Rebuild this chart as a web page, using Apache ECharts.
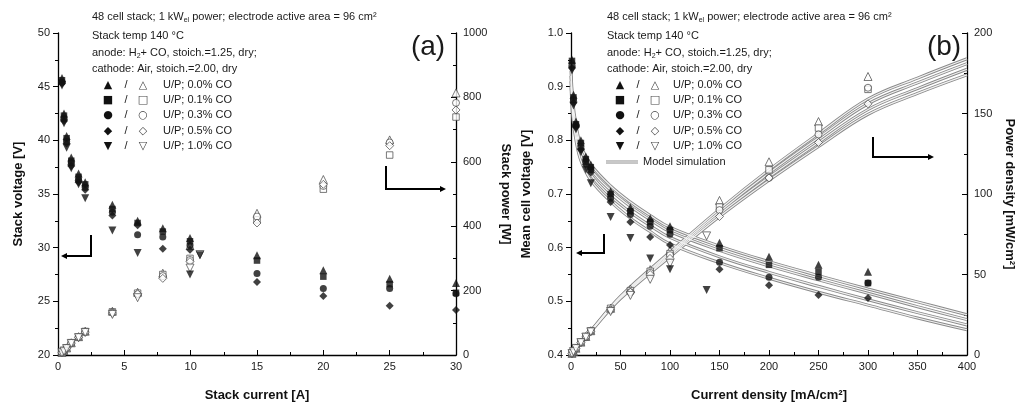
<!DOCTYPE html>
<html><head><meta charset="utf-8">
<script src="https://cdn.jsdelivr.net/npm/echarts@6/dist/echarts.min.js"></script>
<style>html,body{margin:0;padding:0;background:#fff}#c{width:1029px;height:413px}</style>
</head><body><div id="c"></div>
<script>
// ---------- Panel (a): stack current [A] ----------
const leftI   = [0.3, 0.45, 0.65, 1.0, 1.55, 2.05, 4.1, 6.0, 7.9, 9.95, 15, 20, 25, 30];
const leftIdt = [0.3, 0.45, 0.65, 1.0, 1.55, 2.05, 4.1, 6.0, 9.95, 10.7];
// stack voltage [V]
const vA_00 = [45.8, 42.5, 40.4, 38.4, 36.9, 36.1, 34.0, 32.5, 31.8, 30.9, 29.3, 27.9, 27.1, 26.7];
const vA_01 = [45.6, 42.3, 40.2, 38.1, 36.6, 35.9, 33.6, 32.3, 31.5, 30.6, 28.8, 27.3, 26.6, 25.8];
const vA_03 = [45.4, 42.0, 39.9, 37.9, 36.3, 35.6, 33.3, 31.2, 31.0, 30.2, 27.6, 26.2, 26.2, 25.7];
const vA_05 = [45.3, 41.8, 39.7, 37.6, 36.1, 35.4, 33.0, 32.1, 29.9, 29.8, 26.8, 25.5, 24.6, 24.2];
const vA_10 = [45.1, 41.6, 39.3, 37.4, 35.9, 34.6, 31.6, 29.5, 27.5, 29.3];
// stack power [W]
const pA_00 = [8, 14, 22, 38, 57, 74, 136, 195, 254, 340, 440, 545, 668, 814];
const pA_01 = [8, 14, 22, 38, 56, 73, 134, 192, 250, 300, 420, 515, 621, 739];
const pA_03 = [8, 13, 21, 37, 55, 72, 132, 188, 245, 295, 430, 525, 660, 783];
const pA_05 = [7, 13, 21, 37, 55, 71, 130, 190, 238, 290, 410, 530, 650, 761];
const pA_10 = [7, 12, 20, 36, 54, 70, 126, 178, 270, 312];

// ---------- Panel (b): current density [mA/cm2] ----------
const rightJ   = [1, 2.5, 5, 10, 15, 20, 40, 60, 80, 100, 150, 200, 250, 300];
const rightJdt = [1, 2.5, 5, 10, 15, 20, 40, 60, 80, 100, 137];
// mean cell voltage [V]
const vB_00 = [0.950, 0.885, 0.835, 0.800, 0.770, 0.755, 0.705, 0.675, 0.655, 0.640, 0.609, 0.583, 0.568, 0.555];
const vB_01 = [0.948, 0.880, 0.830, 0.795, 0.765, 0.750, 0.700, 0.668, 0.648, 0.633, 0.599, 0.568, 0.555, 0.534];
const vB_03 = [0.940, 0.875, 0.828, 0.788, 0.760, 0.745, 0.692, 0.662, 0.640, 0.625, 0.573, 0.545, 0.545, 0.534];
const vB_05 = [0.935, 0.870, 0.825, 0.783, 0.755, 0.740, 0.685, 0.648, 0.620, 0.605, 0.560, 0.530, 0.512, 0.506];
const vB_10 = [0.930, 0.865, 0.820, 0.778, 0.745, 0.720, 0.657, 0.618, 0.580, 0.560, 0.521];
// power density [mW/cm2]
const pB_00 = [1.0, 2.2, 4.2, 8.0, 11.5, 15.1, 29, 41, 53, 65, 96, 120, 145, 173];
const pB_01 = [1.0, 2.2, 4.2, 8.0, 11.4, 15.0, 29, 40, 52, 63, 92, 115, 141, 165];
const pB_03 = [0.9, 2.2, 4.1, 7.9, 11.3, 14.8, 28, 39, 51, 62, 90, 110, 137, 166];
const pB_05 = [0.9, 2.2, 4.1, 7.8, 11.2, 14.7, 28, 39, 50, 60, 86, 110, 132, 156];
const pB_10 = [0.9, 2.1, 4.1, 7.7, 11.1, 14.4, 27, 37, 47, 57, 74];

// model simulation curves
const modelJ  = [0, 2, 5, 10, 20, 40, 60, 80, 100, 150, 200, 250, 300, 350, 400];
const modelV1 = [0.93, 0.87, 0.83, 0.79, 0.755, 0.715, 0.685, 0.660, 0.638, 0.603, 0.574, 0.548, 0.523, 0.499, 0.475];
const modelV2 = [0.92, 0.86, 0.82, 0.782, 0.746, 0.707, 0.677, 0.652, 0.630, 0.595, 0.566, 0.540, 0.515, 0.490, 0.466];
const modelV3 = [0.91, 0.85, 0.81, 0.772, 0.736, 0.696, 0.666, 0.641, 0.619, 0.583, 0.554, 0.528, 0.503, 0.479, 0.456];
const modelV4 = [0.90, 0.84, 0.80, 0.762, 0.726, 0.686, 0.655, 0.630, 0.607, 0.572, 0.543, 0.517, 0.493, 0.469, 0.447];
const modelPJ = [0, 5, 10, 20, 50, 100, 150, 200, 250, 300, 350, 400];
const modelP1 = [0, 4.1, 7.9, 15.1, 36.5, 64, 90.5, 115, 137.5, 159, 172, 184];
const modelP2 = [0, 4.1, 7.8, 14.9, 36.0, 63, 89.0, 113, 135.0, 156, 169, 181];
const modelP3 = [0, 4.0, 7.7, 14.7, 35.5, 62, 87.5, 110.5, 132.0, 152.5, 165.5, 177.5];
const modelP4 = [0, 4.0, 7.6, 14.5, 35.0, 61, 86.0, 108.5, 129.5, 149.5, 162.5, 174];

const concLabels = ['U/P; 0.0% CO', 'U/P; 0.1% CO', 'U/P; 0.3% CO', 'U/P; 0.5% CO', 'U/P; 1.0% CO'];
const filledGlyphs = ['▲', '■', '●', '◆', '▼'];
const openGlyphs = ['△', '□', '○', '◇', '▽'];

const xTicksA = [0, 30, 5];
const yTicksA = [20, 50, 5];
const yTicksAP = [0, 1000, 200];
const xTicksB = [0, 400, 50];
const yTicksB = [0.4, 1.0, 0.1];
const yTicksBP = [0, 200, 50];

// ---------- build ----------
const zip = (xs, ys) => ys.map((y, i) => [xs[i], y]).filter(p => p[1] != null);
const syms = ['triangle', 'rect', 'circle', 'diamond', 'triangle'];
const rots = [0, 0, 0, 0, 180];
const sizes = [8, 6.5, 7, 8, 8];
const INK = '#111';

function scat(name, xi, yi, data, k, open) {
  return {
    name, type: 'scatter', xAxisIndex: xi, yAxisIndex: yi, data,
    symbol: syms[k], symbolRotate: rots[k], symbolSize: sizes[k], z: 5,
    itemStyle: open ? {color: '#fff', borderColor: '#444', borderWidth: 0.9}
                    : {color: INK, borderColor: INK, borderWidth: 0},
    silent: true
  };
}
function modelLine(xi, yi, data) {
  return [
    {type: 'line', xAxisIndex: xi, yAxisIndex: yi, data, smooth: 0.4, showSymbol: false, symbol: 'none',
     lineStyle: {color: '#8a8a8a', width: 3}, z: 2, silent: true},
    {type: 'line', xAxisIndex: xi, yAxisIndex: yi, data, smooth: 0.4, showSymbol: false, symbol: 'none',
     lineStyle: {color: '#f2f2f2', width: 1.2}, z: 3, silent: true}
  ];
}

const series = [];
[modelV1, modelV2, modelV3, modelV4].forEach(v => series.push(...modelLine(1, 2, zip(modelJ, v))));
[modelP1, modelP2, modelP3, modelP4].forEach(p => series.push(...modelLine(1, 3, zip(modelPJ, p))));

const vA = [vA_00, vA_01, vA_03, vA_05, vA_10];
const pA = [pA_00, pA_01, pA_03, pA_05, pA_10];
const vB = [vB_00, vB_01, vB_03, vB_05, vB_10];
const pB = [pB_00, pB_01, pB_03, pB_05, pB_10];
for (let k = 0; k < 5; k++) {
  const xa = k === 4 ? leftIdt : leftI;
  const xb = k === 4 ? rightJdt : rightJ;
  series.push(scat(concLabels[k], 0, 1, zip(xa, pA[k]), k, true));
  series.push(scat(concLabels[k], 0, 0, zip(xa, vA[k]), k, false));
  series.push(scat(concLabels[k], 1, 3, zip(xb, pB[k]), k, true));
  series.push(scat(concLabels[k], 1, 2, zip(xb, vB[k]), k, false));
}

const FONT = 'Liberation Sans, Arial, sans-serif';
const lbl = {color: '#1a1a1a', fontSize: 11, fontFamily: FONT};
const axLine = {show: true, onZero: false, lineStyle: {color: '#000', width: 1.3}};
const nameStyle = {color: '#111', fontSize: 13, fontWeight: 'bold', fontFamily: FONT};

function xAx(grid, t, name) {
  return {type: 'value', gridIndex: grid, min: t[0], max: t[1], interval: t[2],
    axisLine: axLine, axisTick: {inside: true, length: 5, lineStyle: {color: '#000'}},
    minorTick: {show: true, splitNumber: 2, length: 3, lineStyle: {color: '#000'}},
    splitLine: {show: false}, axisLabel: {...lbl, margin: 6},
    name, nameLocation: 'middle', nameGap: 34, nameTextStyle: nameStyle};
}
function yAx(grid, t, name, right, gap, fmt) {
  const o = {type: 'value', gridIndex: grid, min: t[0], max: t[1], interval: t[2],
    position: right ? 'right' : 'left',
    axisLine: axLine, axisTick: {inside: !!right, length: 5, lineStyle: {color: '#000'}},
    minorTick: {show: true, splitNumber: 2, length: 3, lineStyle: {color: '#000'}},
    splitLine: {show: false}, axisLabel: {...lbl, margin: right ? 7 : 8},
    name, nameLocation: 'middle', nameGap: gap, nameRotate: right ? -90 : 90, nameTextStyle: nameStyle};
  o.axisLabel.formatter = fmt || (v => String(v));
  return o;
}

const graphic = [];
function txt(x, y, text, extra) {
  graphic.push({type: 'text', silent: true, z: 10,
    style: Object.assign({text, x, y, fill: '#1a1a1a', font: '11px ' + FONT, verticalAlign: 'middle', align: 'left'}, extra || {})});
}
function richTxt(x, y, text) {
  graphic.push({type: 'text', silent: true, z: 10,
    style: {text, x, y, fill: '#1a1a1a', verticalAlign: 'middle', align: 'left',
      rich: {a: {fontSize: 11, fontFamily: FONT, fill: '#1a1a1a', lineHeight: 14},
             s: {fontSize: 7, fontFamily: FONT, fill: '#1a1a1a', lineHeight: 14, padding: [6, 0, 0, 0]}}}});
}
function header(x0, mx, sl, ox, tx, withModel) {
  richTxt(x0, 17, '{a|48 cell stack; 1 kW}{s|el}{a| power; electrode active area = 96 cm²}');
  txt(x0, 36, 'Stack temp 140 °C');
  richTxt(x0, 53, '{a|anode: H}{s|2}{a|+ CO, stoich.=1.25, dry;}');
  txt(x0, 69, 'cathode: Air, stoich.=2.00, dry');
  const rows = [85, 100, 115, 131, 146];
  for (let k = 0; k < 5; k++) {
    const gf = '11px DejaVu Sans, sans-serif';
    txt(mx, rows[k], filledGlyphs[k], {font: gf, fill: INK, align: 'center'});
    txt(sl, rows[k], '/', {align: 'center'});
    txt(ox, rows[k], openGlyphs[k], {font: gf, fill: '#444', align: 'center'});
    txt(tx, rows[k], concLabels[k]);
  }
  if (withModel) {
    graphic.push({type: 'line', silent: true, shape: {x1: 606, y1: 162, x2: 638, y2: 162}, style: {stroke: '#8a8a8a', lineWidth: 3}});
    graphic.push({type: 'line', silent: true, shape: {x1: 606, y1: 162, x2: 638, y2: 162}, style: {stroke: '#f2f2f2', lineWidth: 1.2}});
    txt(643, 162, 'Model simulation');
  }
}
header(92, 108, 126, 143, 163, false);
header(607, 620, 638, 655, 673, true);
txt(428, 47, '(a)', {font: '28px ' + FONT, align: 'center'});
txt(944, 47, '(b)', {font: '28px ' + FONT, align: 'center'});

function arrow(pts, dir) {
  graphic.push({type: 'polyline', silent: true, shape: {points: pts}, style: {stroke: '#000', lineWidth: 2, fill: null}});
  const [x, y] = pts[pts.length - 1];
  const s = dir === 'left' ? -1 : 1;
  graphic.push({type: 'polygon', silent: true, shape: {points: [[x + s * 6, y], [x, y - 3], [x, y + 3]]}, style: {fill: '#000'}});
}
arrow([[91, 235], [91, 256], [67, 256]], 'left');
arrow([[386, 166], [386, 189], [440, 189]], 'right');
arrow([[604, 234], [604, 253], [582, 253]], 'left');
arrow([[873, 137], [873, 157], [928, 157]], 'right');

const option = {
  animation: false,
  backgroundColor: '#fff',
  grid: [
    {left: 58, right: 1029 - 456, top: 33, bottom: 413 - 355},
    {left: 571, right: 1029 - 967, top: 33, bottom: 413 - 355}
  ],
  xAxis: [xAx(0, xTicksA, 'Stack current [A]'), xAx(1, xTicksB, 'Current density [mA/cm²]')],
  yAxis: [
    yAx(0, yTicksA, 'Stack voltage [V]', false, 33),
    yAx(0, yTicksAP, 'Stack power [W]', true, 43),
    yAx(1, yTicksB, 'Mean cell voltage [V]', false, 38, v => v.toFixed(1)),
    yAx(1, yTicksBP, 'Power density [mW/cm²]', true, 36)
  ],
  series,
  graphic
};
const chart = echarts.init(document.getElementById('c'), null, {renderer: 'canvas'});
chart.setOption(option);
</script></body></html>
